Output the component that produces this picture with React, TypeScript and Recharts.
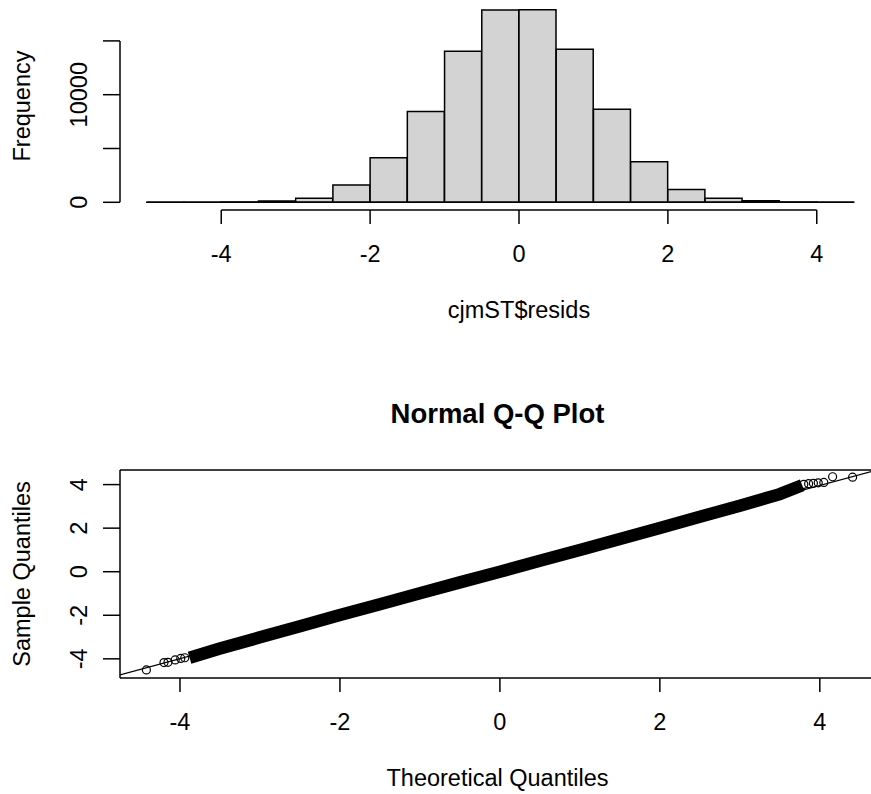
import React from 'react';
import {
  ComposedChart,
  Bar,
  Line,
  Scatter,
  XAxis,
  YAxis,
  ReferenceLine,
  Label,
} from 'recharts';

const FONT = '"Liberation Sans", Arial, Helvetica, sans-serif';
const INK = '#000000';
const BAR_FILL = '#d3d3d3';
const LINE_W = 1.5;
const TEXT_SIZE = 23.5;

// hist(cjmST$resids): left edges of the 0.5-wide bins and their counts
const BIN_STARTS = [-5, -4.5, -4, -3.5, -3, -2.5, -2, -1.5, -1, -0.5, 0, 0.5, 1, 1.5, 2, 2.5, 3, 3.5, 4];
const BIN_WIDTH = 0.5;
const BIN_COUNTS = [2, 6, 20, 120, 370, 1600, 4130, 8450, 14040, 17880, 17900, 14220, 8640, 3760, 1200, 370, 140, 20, 4];

const HIST_X_TICKS = [-4, -2, 0, 2, 4];
const HIST_Y_TICKS = [0, 5000, 10000, 15000];
// R leaves out tick labels that would collide
const HIST_Y_LABELS = [0, 10000];

// qqnorm: the dense middle of the point cloud
const QQ_THEORETICAL = [-3.88, -3.5, -3, -2.5, -2, -1.5, -1, -0.5, 0, 0.5, 1, 1.5, 2, 2.5, 3, 3.5, 3.78];
const QQ_SAMPLE = [-3.95, -3.53, -3.01, -2.5, -1.99, -1.49, -0.99, -0.49, 0.0, 0.5, 1.0, 1.5, 2.01, 2.52, 3.03, 3.56, 3.97];
// sparse points in both tails
const QQ_TAIL_THEORETICAL = [-4.42, -4.2, -4.15, -4.06, -3.99, -3.94, 3.8, 3.86, 3.92, 3.98, 4.05, 4.16, 4.41];
const QQ_TAIL_SAMPLE = [-4.51, -4.17, -4.16, -4.05, -3.98, -3.95, 4.01, 4.04, 4.06, 4.08, 4.1, 4.36, 4.34];

const QQ_TICKS = [-4, -2, 0, 2, 4];
const QQ_LINE_INTERCEPT = -0.015;
const QQ_LINE_SLOPE = 0.994;

// ---- layout ----
const AXIS_W = 120;
const X_TICK_LEN = 14;
const Y_TICK_LEN = 17;

const HIST_W = 934;
const HIST_H = 330;
const HIST_MARGIN = { top: 2, right: 16, left: 0, bottom: 0 };
const HIST_X_DOMAIN: [number, number] = [-5.36, 5.36];

const QQ_W = 890;
const QQ_H = 464;
const QQ_MARGIN = { top: 140, right: 15, left: 0, bottom: 0 };
const QQ_X_DOMAIN: [number, number] = [-4.75, 4.69];
const QQ_Y_DOMAIN: [number, number] = [-4.88, 4.67];

const histData = BIN_STARTS.map((lo, i) => ({
  bin: lo,
  mid: lo + BIN_WIDTH / 2,
  count: BIN_COUNTS[i],
}));
const countMax = Math.max(...BIN_COUNTS);
const HIST_Y_DOMAIN: [number, number] = [-0.04 * countMax, 1.04 * countMax];

// place the category band of bins on the same scale as the numeric axis
const histPlotW = HIST_W - AXIS_W - HIST_MARGIN.left - HIST_MARGIN.right;
const pxPerUnit = histPlotW / (HIST_X_DOMAIN[1] - HIST_X_DOMAIN[0]);
const binsLo = BIN_STARTS[0];
const binsHi = BIN_STARTS[BIN_STARTS.length - 1] + BIN_WIDTH;
const binPadding = {
  left: (binsLo - HIST_X_DOMAIN[0]) * pxPerUnit,
  right: (HIST_X_DOMAIN[1] - binsHi) * pxPerUnit,
};

const bandData = QQ_THEORETICAL.map((x, i) => ({ x, y: QQ_SAMPLE[i] }));
const tailData = QQ_TAIL_THEORETICAL.map((x, i) => ({ x, y: QQ_TAIL_SAMPLE[i] }));
const qqLine = [
  { x: QQ_X_DOMAIN[0], y: QQ_LINE_INTERCEPT + QQ_LINE_SLOPE * QQ_X_DOMAIN[0] },
  { x: QQ_X_DOMAIN[1], y: QQ_LINE_INTERCEPT + QQ_LINE_SLOPE * QQ_X_DOMAIN[1] },
];

const textProps = { fontFamily: FONT, fontSize: TEXT_SIZE, fill: INK };

function BottomTick(props: any) {
  const { x = 0, y = 0, payload } = props;
  return (
    <text x={x} y={y + 37.7} textAnchor="middle" {...textProps}>
      {payload?.value}
    </text>
  );
}

function LeftTick(props: any) {
  const { x = 0, y = 0, payload, shown } = props;
  const v = payload?.value;
  if (shown && !shown.includes(v)) return <g />;
  const bx = x - 16;
  return (
    <text x={bx} y={y} transform={`rotate(-90 ${bx} ${y})`} textAnchor="middle" {...textProps}>
      {v}
    </text>
  );
}

const bottomTitle = (text: string) => (props: any) => {
  const vb = props.viewBox ?? { x: 0, y: 0, width: 0, height: 0 };
  return (
    <text x={vb.x + vb.width / 2} y={vb.y + 107.7} textAnchor="middle" {...textProps}>
      {text}
    </text>
  );
};

const leftTitle = (text: string) => (props: any) => {
  const vb = props.viewBox ?? { x: 0, y: 0, width: 0, height: 0 };
  const bx = vb.x + 30;
  const cy = vb.y + vb.height / 2;
  return (
    <text x={bx} y={cy} transform={`rotate(-90 ${bx} ${cy})`} textAnchor="middle" {...textProps}>
      {text}
    </text>
  );
};

const mainTitle = (text: string) => (props: any) => {
  const vb = props.viewBox ?? { x: 0, y: 0, width: 0, height: 0 };
  return (
    <text
      x={vb.x + vb.width / 2}
      y={vb.y - 47}
      textAnchor="middle"
      fontFamily={FONT}
      fontSize={27.5}
      fontWeight="bold"
      fill={INK}
    >
      {text}
    </text>
  );
};

function OpenCircle(props: any) {
  const { cx, cy } = props;
  if (cx == null || cy == null) return <g />;
  return <circle cx={cx} cy={cy} r={4} fill="none" stroke={INK} strokeWidth={1.2} />;
}

function Histogram() {
  return (
    <ComposedChart
      width={HIST_W}
      height={HIST_H}
      data={histData}
      margin={HIST_MARGIN}
      barCategoryGap={0}
      barGap={0}
    >
      <XAxis xAxisId="bins" dataKey="bin" type="category" hide height={0} padding={binPadding} />
      <XAxis
        xAxisId="num"
        dataKey="mid"
        type="number"
        domain={HIST_X_DOMAIN}
        allowDataOverflow
        ticks={HIST_X_TICKS}
        interval={0}
        axisLine={false}
        tickLine={{ stroke: INK, strokeWidth: LINE_W }}
        tickSize={X_TICK_LEN}
        tickMargin={0}
        height={120}
        tick={(p: any) => <BottomTick {...p} />}
      >
        <Label content={bottomTitle('cjmST$resids')} />
      </XAxis>
      <YAxis
        type="number"
        domain={HIST_Y_DOMAIN}
        allowDataOverflow
        ticks={HIST_Y_TICKS}
        interval={0}
        width={AXIS_W}
        axisLine={false}
        tickLine={{ stroke: INK, strokeWidth: LINE_W }}
        tickSize={Y_TICK_LEN}
        tickMargin={0}
        tick={(p: any) => <LeftTick {...p} shown={HIST_Y_LABELS} />}
      >
        <Label content={leftTitle('Frequency')} />
      </YAxis>
      <Bar
        xAxisId="bins"
        dataKey="count"
        fill={BAR_FILL}
        stroke={INK}
        strokeWidth={LINE_W}
        isAnimationActive={false}
      />
      {/* bottoms of the empty bins */}
      <ReferenceLine
        xAxisId="num"
        segment={[{ x: binsLo, y: 0 }, { x: binsHi, y: 0 }]}
        stroke={INK}
        strokeWidth={LINE_W}
        ifOverflow="visible"
      />
      {/* R-style axis lines, only as long as the tick range */}
      <ReferenceLine
        xAxisId="num"
        segment={[
          { x: HIST_X_TICKS[0], y: HIST_Y_DOMAIN[0] },
          { x: HIST_X_TICKS[HIST_X_TICKS.length - 1], y: HIST_Y_DOMAIN[0] },
        ]}
        stroke={INK}
        strokeWidth={LINE_W}
        ifOverflow="visible"
      />
      <ReferenceLine
        xAxisId="num"
        segment={[
          { x: HIST_X_DOMAIN[0], y: HIST_Y_TICKS[0] },
          { x: HIST_X_DOMAIN[0], y: HIST_Y_TICKS[HIST_Y_TICKS.length - 1] },
        ]}
        stroke={INK}
        strokeWidth={LINE_W}
        ifOverflow="visible"
      />
    </ComposedChart>
  );
}

function QQPlot() {
  return (
    <ComposedChart width={QQ_W} height={QQ_H} margin={QQ_MARGIN}>
      <XAxis
        dataKey="x"
        type="number"
        domain={QQ_X_DOMAIN}
        allowDataOverflow
        ticks={QQ_TICKS}
        interval={0}
        axisLine={{ stroke: INK, strokeWidth: LINE_W }}
        tickLine={{ stroke: INK, strokeWidth: LINE_W }}
        tickSize={X_TICK_LEN}
        tickMargin={0}
        height={116}
        tick={(p: any) => <BottomTick {...p} />}
      >
        <Label content={bottomTitle('Theoretical Quantiles')} />
      </XAxis>
      <YAxis
        dataKey="y"
        type="number"
        domain={QQ_Y_DOMAIN}
        allowDataOverflow
        ticks={QQ_TICKS}
        interval={0}
        width={AXIS_W}
        axisLine={{ stroke: INK, strokeWidth: LINE_W }}
        tickLine={{ stroke: INK, strokeWidth: LINE_W }}
        tickSize={Y_TICK_LEN}
        tickMargin={0}
        tick={(p: any) => <LeftTick {...p} />}
      >
        <Label content={leftTitle('Sample Quantiles')} />
      </YAxis>
      {/* top edge of the plot box, carrying the title */}
      <ReferenceLine y={QQ_Y_DOMAIN[1]} stroke={INK} strokeWidth={LINE_W} ifOverflow="visible">
        <Label content={mainTitle('Normal Q-Q Plot')} />
      </ReferenceLine>
      {/* qqline */}
      <ReferenceLine segment={qqLine} stroke={INK} strokeWidth={1.1} ifOverflow="hidden" />
      {/* overlapping circles merge into a solid band */}
      <Line
        data={bandData}
        dataKey="y"
        type="linear"
        stroke={INK}
        strokeWidth={12.5}
        dot={false}
        activeDot={false}
        isAnimationActive={false}
      />
      <Scatter data={tailData} dataKey="y" shape={(p: any) => <OpenCircle {...p} />} isAnimationActive={false} />
    </ComposedChart>
  );
}

export default function App() {
  return (
    <div
      style={{
        position: 'absolute',
        left: 0,
        top: 0,
        width: 871,
        height: 794,
        overflow: 'hidden',
        background: '#ffffff',
      }}
    >
      <div style={{ position: 'absolute', left: 0, top: 0 }}>
        <Histogram />
      </div>
      <div style={{ position: 'absolute', left: 0, top: HIST_H }}>
        <QQPlot />
      </div>
    </div>
  );
}
